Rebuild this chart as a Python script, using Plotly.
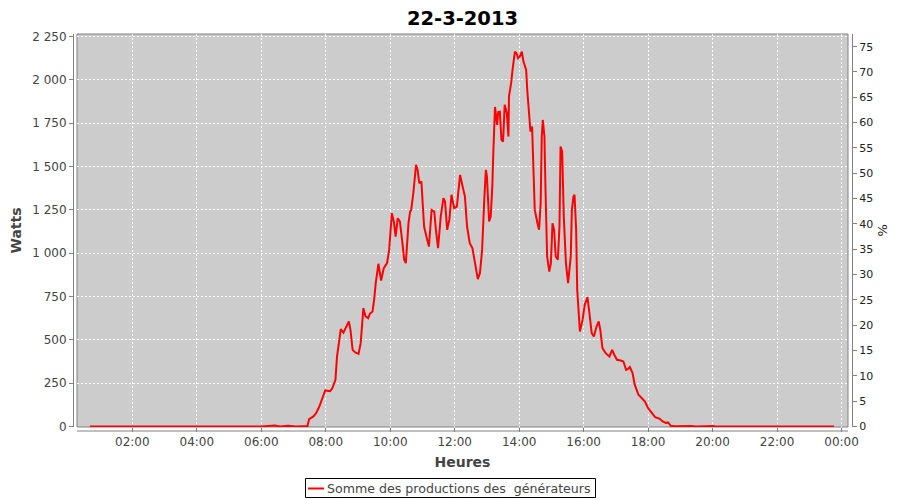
import plotly.graph_objects as go

DAY = "2013-03-22"

times = [
    "00:41", "01:30", "02:35", "02:40", "03:20", "04:00", "04:05", "05:00", "05:55", "06:00",
    "06:25", "06:35", "06:50", "07:05", "07:26",
    "07:29", "07:37", "07:42", "07:48", "07:54", "07:59", "08:08", "08:12", "08:18", "08:21",
    "08:28", "08:33", "08:37", "08:43", "08:46", "08:50", "08:55", "09:01", "09:05", "09:10",
    "09:14", "09:19", "09:22", "09:27", "09:30", "09:33", "09:38", "09:43", "09:48", "09:54",
    "09:58", "10:03", "10:07", "10:10", "10:14", "10:18", "10:22", "10:26", "10:29", "10:34",
    "10:37", "10:39", "10:43", "10:48", "10:51", "10:54", "10:58", "11:01", "11:03", "11:08",
    "11:12", "11:17", "11:22", "11:25", "11:29", "11:34", "11:39", "11:42", "11:46", "11:50",
    "11:54", "11:59", "12:04", "12:10", "12:14", "12:19", "12:23", "12:28", "12:33", "12:38",
    "12:43", "12:47", "12:51", "12:55", "12:58", "13:00", "13:04", "13:07", "13:10", "13:12",
    "13:15", "13:19", "13:21", "13:24", "13:27", "13:30", "13:33", "13:37", "13:40", "13:41",
    "13:45", "13:48", "13:52", "13:55", "13:58", "14:01", "14:05", "14:08", "14:13", "14:15",
    "14:19", "14:21", "14:24", "14:26", "14:29", "14:34", "14:37", "14:40", "14:42", "14:44",
    "14:47", "14:49", "14:52", "14:56", "14:59", "15:02", "15:05", "15:08", "15:12", "15:15",
    "15:17", "15:20", "15:23", "15:27", "15:31", "15:36", "15:38", "15:41", "15:43", "15:46",
    "15:48", "15:53", "15:58", "16:02", "16:07", "16:10", "16:15", "16:19", "16:24", "16:28",
    "16:31", "16:35", "16:41", "16:48", "16:53", "16:57", "17:02", "17:09", "17:14", "17:19",
    "17:22", "17:26", "17:31", "17:35", "17:42", "17:48", "17:54", "18:00", "18:06", "18:13",
    "18:21", "18:27", "18:33", "18:37", "18:42",
    "18:50", "19:20", "19:30", "20:00", "20:05", "21:00", "22:00", "23:00", "23:05", "23:10",
    "23:46",
]

watts = [
    0, 0, 3, 0, 0, 2, 0, 0, 4, 0,
    6, 0, 4, 0, 3,
    43, 58, 77, 115, 173, 208, 204, 219, 269, 404,
    562, 542, 568, 606, 558, 442, 427, 419, 481, 683,
    635, 625, 650, 663, 731, 827, 939, 842, 914, 943,
    1019, 1231, 1177, 1096, 1202, 1183, 1077, 962, 943, 1173,
    1240, 1250, 1347, 1510, 1481, 1404, 1414, 1289, 1154, 1087,
    1038, 1250, 1240, 1135, 1029, 1211, 1318, 1298, 1135, 1192,
    1337, 1260, 1269, 1452, 1404, 1327, 1154, 1058, 1029, 933,
    850, 885, 1019, 1308, 1481, 1442, 1183, 1211, 1385, 1596,
    1844, 1740, 1815, 1817, 1654, 1644, 1856, 1808, 1673, 1904,
    1981, 2068, 2163, 2154, 2125, 2134, 2163, 2106, 2058, 1942,
    1769, 1702, 1731, 1520, 1250, 1173, 1135, 1289, 1673, 1769,
    1673, 1366, 981, 894, 943, 1173, 1135, 981, 962, 1154,
    1615, 1587, 1211, 943, 827, 981, 1250, 1327, 1337, 1135,
    789, 548, 615, 702, 746, 673, 538, 519, 577, 606,
    558, 452, 423, 404, 442, 414, 385, 381, 375, 327,
    331, 343, 308, 241, 183, 164, 144, 106, 81, 54,
    46, 29, 20, 23, 4,
    2, 3, 0, 3, 0, 0, 0, 0, 3, 0,
    0,
]

title_text = "22-3-2013"
series_name = "Somme des productions des\u00a0 générateurs"
x_title = "Heures"
y_title = "Watts"
y2_title = "%"

x = [f"{DAY} {t}" for t in times]

LINE_COLOR = "#ff0000"

fig = go.Figure()
fig.add_trace(go.Scatter(
    x=x, y=watts, mode="lines", name=series_name,
    line=dict(color=LINE_COLOR, width=2), showlegend=False,
))
# invisible trace so the percentage axis is drawn
fig.add_trace(go.Scatter(
    x=[x[0], x[-1]], y=[0, 0], yaxis="y2", mode="lines",
    line=dict(color="rgba(0,0,0,0)", width=0), showlegend=False, hoverinfo="skip",
))

FONT = "DejaVu Sans"
GRAY = "#808080"

# the page body adds an 8px offset, so the figure is drawn 892x492
W, H = 892, 492
PL, PT, PW, PH = 77, 34, 771, 393  # plot area in page pixels


def px(vx):
    return (vx - PL) / PW


def py(vy):
    return (PT + PH - vy) / PH


fig.update_layout(
    width=W, height=H,
    margin=dict(l=69, r=52, t=26, b=73, autoexpand=False),
    paper_bgcolor="white",
    plot_bgcolor="#cccccc",
    separators=", ",
    font=dict(family=FONT, size=12, color="#444444"),
    title=dict(text=f"<b>{title_text}</b>", x=0.5, xref="paper", xanchor="center",
               y=1 - 3 / H, yref="container", yanchor="top", pad=dict(t=0, b=0),
               font=dict(family=FONT, size=19.5, color="#000000")),
    showlegend=False,
    xaxis=dict(
        type="date", automargin=False,
        range=[f"{DAY} 00:17", "2013-03-23 00:12"],
        tick0=f"{DAY} 00:00", dtick=7200000, tickformat="%H:%M",
        showgrid=True, gridcolor="white", gridwidth=1, griddash="2px,2px",
        ticks="outside", ticklen=4, tickcolor=GRAY,
        tickfont=dict(family=FONT, size=12, color="#444444"),
        showline=False, zeroline=False,
        title=dict(text=f"<b>{x_title}</b>", standoff=8,
                   font=dict(family=FONT, size=14, color="#444444")),
    ),
    yaxis=dict(
        range=[-3, 2265], tick0=0, dtick=250, tickformat=",d", automargin=False,
        showgrid=True, gridcolor="white", gridwidth=1, griddash="2px,2px",
        zeroline=False,
        ticks="outside", ticklen=4, tickcolor=GRAY,
        tickfont=dict(family=FONT, size=12, color="#444444"),
        anchor="free", position=0, shift=-4,
        showline=True, linecolor=GRAY, linewidth=1,
        title=dict(text=f"<b>{y_title}</b>", standoff=6,
                   font=dict(family=FONT, size=14, color="#444444")),
    ),
    yaxis2=dict(
        range=[-0.1, 77.5], tick0=0, dtick=5, automargin=False,
        overlaying="y", side="right",
        anchor="free", position=1, shift=4,
        showgrid=False, zeroline=False,
        ticks="outside", ticklen=4, tickcolor=GRAY,
        tickfont=dict(family=FONT, size=11, color="#222222"),
        showline=True, linecolor=GRAY, linewidth=1,
    ),
    annotations=[
        dict(text=y2_title, xref="paper", yref="paper", x=px(882), y=0.5,
             xanchor="center", yanchor="middle", textangle=-90, showarrow=False,
             font=dict(family=FONT, size=13, color="#222222")),
        # legend label
        dict(text=series_name, xref="paper", yref="paper", x=px(326), y=py(488),
             xanchor="left", yanchor="middle", showarrow=False, borderpad=0,
             font=dict(family=FONT, size=12.6, color="#444444")),
    ],
    shapes=[
        dict(type="rect", xref="paper", yref="paper", x0=0, x1=1, y0=0, y1=1,
             line=dict(color=GRAY, width=1), layer="between"),
        dict(type="line", xref="paper", yref="paper", x0=0, x1=1,
             ysizemode="pixel", yanchor=0, y0=-4, y1=-4,
             line=dict(color=GRAY, width=1)),
        # legend box and sample line
        dict(type="rect", xref="paper", yref="paper",
             x0=px(305.5), x1=px(595.5), y0=py(478.5), y1=py(497.5),
             line=dict(color="#000000", width=1), fillcolor="white"),
        dict(type="line", xref="paper", yref="paper",
             x0=px(308), x1=px(324), y0=py(488.5), y1=py(488.5),
             line=dict(color=LINE_COLOR, width=2)),
    ],
)

fig.write_html("out.html")
